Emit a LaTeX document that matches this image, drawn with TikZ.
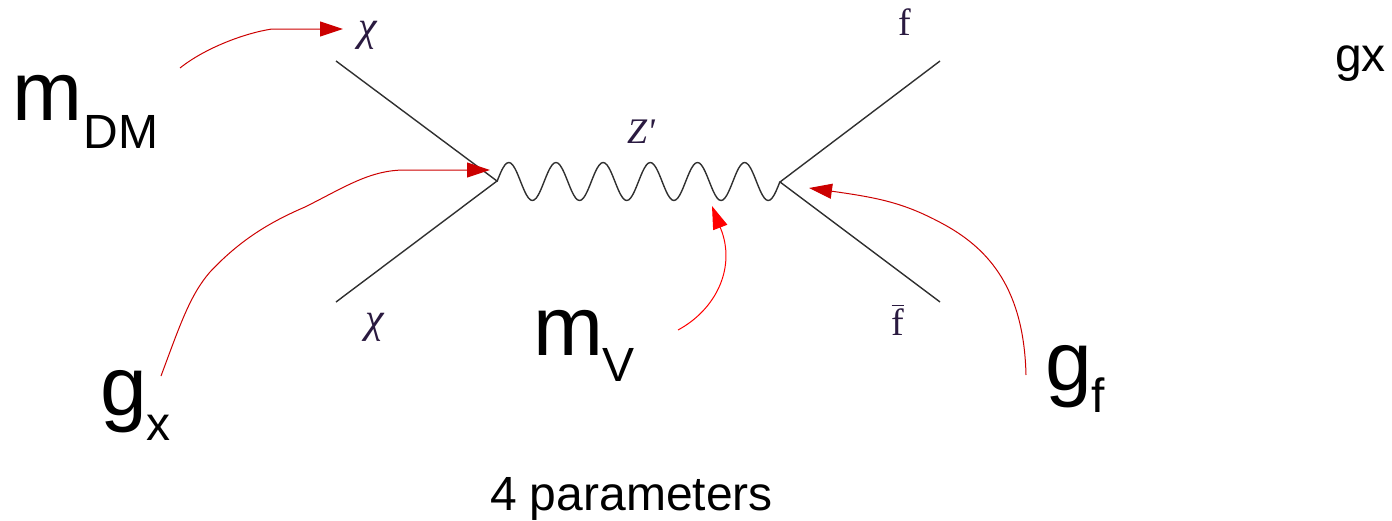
\documentclass[tikz,border=0pt]{standalone}
\usepackage{fontspec}
\setmainfont{Liberation Sans}
\newfontfamily\serifit[ItalicFont={Liberation Serif Italic}]{Liberation Serif}
\usetikzlibrary{arrows.meta}
\definecolor{darkred}{HTML}{CC0000}
\definecolor{purered}{HTML}{FF0000}
\definecolor{legcol}{HTML}{303030}
\definecolor{labcol}{HTML}{2A1A40}
\newcommand{\bigpart}[1]{{\fontsize{42}{42}\selectfont #1}}
\newcommand{\subpart}[2]{{\fontsize{24}{24}\selectfont\raisebox{#1}{#2}}}
\tikzset{
  leg/.style={draw=legcol,line width=0.7pt},
  wave/.style={draw=legcol,line width=0.7pt},
  redarrow/.style={draw=#1,line width=0.5pt,-{Triangle[length=11.5pt,width=7.5pt,fill=#1]}},
  param/.style={anchor=base west,inner sep=0pt,outer sep=0pt,text=black},
  small/.style={anchor=base,inner sep=0pt,outer sep=0pt,text=labcol},
  plain/.style={anchor=base west,inner sep=0pt,outer sep=0pt,text=black,font=\fontsize{24}{24}\selectfont}
}
\begin{document}
\begin{tikzpicture}[x=0.5pt,y=-0.5pt]
\useasboundingbox (0,0) rectangle (1392,520);
% vertices and free ends
\coordinate (vL) at (497,181);
\coordinate (vR) at (780,182);
\coordinate (tl) at (336,61);
\coordinate (bl) at (336,302);
\coordinate (tr) at (940,61);
\coordinate (br) at (940,302);
\draw[leg] (tl) -- (vL) -- (bl);
\draw[leg] (tr) -- (vR) -- (br);
\draw[wave] plot[domain=0:6,samples=145,smooth] ({497+\x*47.17},{181.5-19*sin(360*\x)});
% small labels
\node[small] (chiT) at (368,40) {\serifit\fontsize{21}{21}\selectfont\itshape χ};
\node[small] (chiB) at (375,332) {\serifit\fontsize{21}{21}\selectfont\itshape χ};
\node[small] (zp) at (641,143) {\serifit\fontsize{18}{18}\selectfont\itshape Z'};
\node[small] (fT) at (905,35) {\serifit\fontsize{19}{19}\selectfont f};
\node[small] (fB) at (898,335) {\serifit\fontsize{19}{19}\selectfont\rlap{\raisebox{14.5pt}{\rule{6pt}{0.6pt}}}f};
% parameters
\node[param] (mdm) at (12,120) {\bigpart{m}\kern1pt\subpart{-14pt}{DM}};
\node[param] (gx) at (100,415) {\bigpart{g}\subpart{-12.5pt}{x}};
\node[param] (mv) at (533,355) {\bigpart{m}\subpart{-13pt}{V}};
\node[param] (gf) at (1045,390) {\bigpart{g}\subpart{-11pt}{f}};
\node[plain] (four) at (490,510) {4 parameters};
\node[plain] (gxtxt) at (1335,71) {gx};
% red arrows
\coordinate (a1s) at (180,68);
\coordinate (a1t) at (343,29);
\coordinate (a2s) at (161,376);
\coordinate (a2t) at (490,170);
\coordinate (a3s) at (678,330);
\coordinate (a3t) at (712,206);
\coordinate (a4s) at (1026,375);
\coordinate (a4t) at (809,188);
\draw[redarrow=darkred] (a1s) .. controls (205,48) and (245,33) .. (272,29) -- (a1t);
\draw[redarrow=darkred] (a2s) .. controls (180,325) and (190,295) .. (210,272)
  .. controls (240,240) and (270,222) .. (305,207)
  .. controls (345,187) and (370,170) .. (405,170) -- (a2t);
\draw[redarrow=purered] (a3s) .. controls (715,310) and (735,270) .. (722,232) -- (a3t);
\draw[redarrow=darkred] (a4s) .. controls (1024,290) and (990,250) .. (945,225)
  .. controls (905,203) and (880,198) .. (a4t);
\end{tikzpicture}
\end{document}
